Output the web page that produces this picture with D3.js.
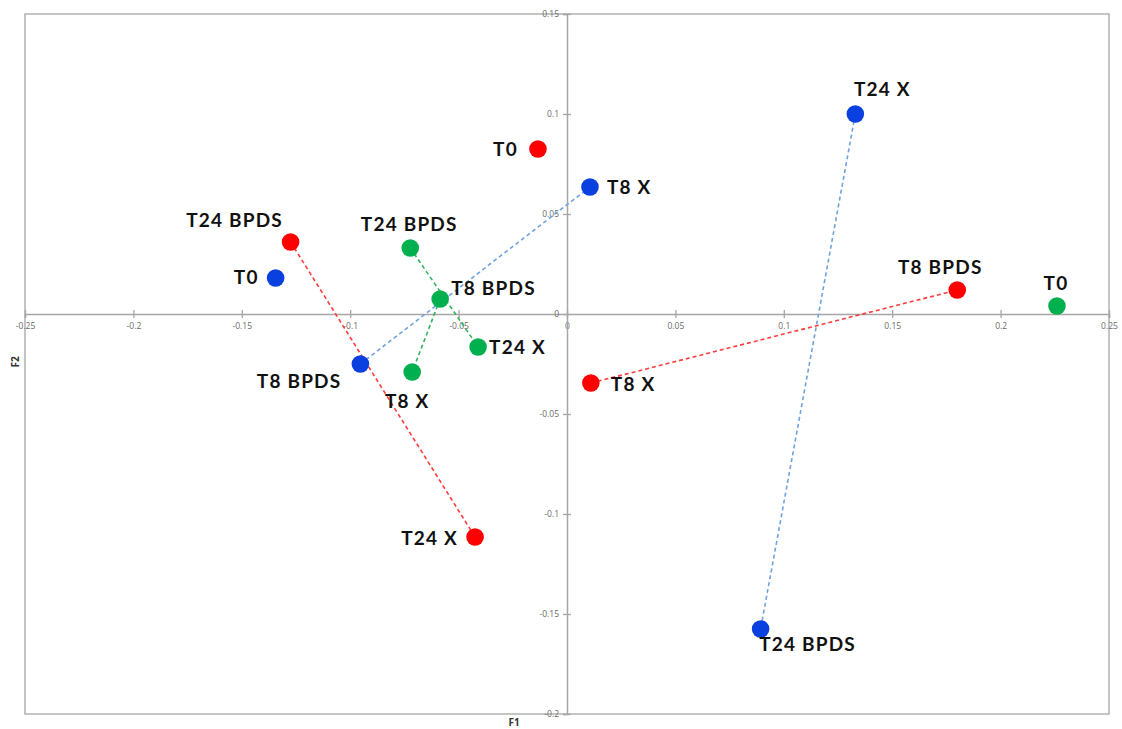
<!DOCTYPE html>
<html>
<head>
<meta charset="utf-8">
<script src="https://cdn.jsdelivr.net/npm/d3@7"></script>
<style>
  html, body { margin: 0; padding: 0; background: #fff; }
  svg { display: block; }
</style>
</head>
<body>
<svg id="chart" width="1122" height="729"></svg>
<script>
// Factor map coordinates (F1, F2) per group
const groups = ["red", "blue", "green"];
const pointNames = ["T0", "T8 X", "T8 BPDS", "T24 X", "T24 BPDS"];

const redF1   = [-0.0134, 0.011, 0.180, -0.0424, -0.1275];
const redF2   = [0.0825, -0.0345, 0.012, -0.1115, 0.036];
const blueF1  = [-0.1344, 0.0106, -0.0953, 0.133, 0.0893];
const blueF2  = [0.018, 0.0635, -0.025, 0.100, -0.1575];
const greenF1 = [0.226, -0.0714, -0.0585, -0.041, -0.0723];
const greenF2 = [0.004, -0.029, 0.0075, -0.0165, 0.033];

// Pairs of points joined by dashed lines (by point name)
const redLinks   = [["T24 BPDS", "T24 X"], ["T8 X", "T8 BPDS"]];
const blueLinks  = [["T8 BPDS", "T8 X"], ["T24 X", "T24 BPDS"]];
const greenLinks = [["T24 BPDS", "T24 X"], ["T8 BPDS", "T8 X"]];

const xTicks = [-0.25, -0.2, -0.15, -0.1, -0.05, 0, 0.05, 0.1, 0.15, 0.2, 0.25];
const yTicks = [-0.2, -0.15, -0.1, -0.05, 0, 0.05, 0.1, 0.15];
const xTickLabels = ["-0.25", "-0.2", "-0.15", "-0.1", "-0.05", "0", "0.05", "0.1", "0.15", "0.2", "0.25"];
const yTickLabels = ["-0.2", "-0.15", "-0.1", "-0.05", "0", "0.05", "0.1", "0.15"];

// ---- layout & style ----
const style = {
  red:   { fill: "#ff0000", stroke: "#ff3b3b" },
  blue:  { fill: "#0a3fe0", stroke: "#6fa3de" },
  green: { fill: "#00b04f", stroke: "#2fb45c" }
};
// label placement: [anchor, dx, dy] relative to the marker centre
const labelPlace = {
  red: {
    "T0": ["end", -20, 0], "T8 X": ["start", 20, 1], "T8 BPDS": ["middle", -17, -23],
    "T24 X": ["end", -17, 1], "T24 BPDS": ["middle", -56, -22]
  },
  blue: {
    "T0": ["end", -17, -1], "T8 X": ["start", 17, 0], "T8 BPDS": ["end", -19, 17],
    "T24 X": ["middle", 27, -25], "T24 BPDS": ["middle", 47, 15]
  },
  green: {
    "T0": ["middle", -1, -23], "T8 X": ["middle", -5, 29], "T8 BPDS": ["start", 11, -11],
    "T24 X": ["start", 11, 0], "T24 BPDS": ["middle", -1, -24]
  }
};

const svg = d3.select("#chart");
const x = d3.scaleLinear().domain([-0.25, 0.25]).range([25, 1109]);
const y = d3.scaleLinear().domain([-0.2, 0.15]).range([714, 14]);

const frameColor = "#a6a6a6";
const tickFont = "'Open Sans', 'Liberation Sans', sans-serif";

// outer frame
svg.append("rect")
  .attr("x", x(-0.25)).attr("y", y(0.15))
  .attr("width", x(0.25) - x(-0.25)).attr("height", y(-0.2) - y(0.15))
  .attr("fill", "none").attr("stroke", frameColor).attr("stroke-width", 1.3);

// horizontal axis through F2 = 0
const xAxis = svg.append("g")
  .attr("transform", `translate(0,${y(0)})`)
  .call(d3.axisBottom(x).tickValues(xTicks).tickSize(4)
        .tickFormat((d, i) => xTickLabels[i]));
xAxis.select(".domain").attr("stroke", frameColor).attr("stroke-width", 1.5);
xAxis.selectAll(".tick line").attr("y1", -4).attr("y2", 4).attr("stroke", frameColor).attr("stroke-width", 1.3);
xAxis.selectAll(".tick text")
  .attr("y", 9).attr("dy", "0.71em")
  .attr("fill", "#6b6b6b").attr("font-size", 8.5).attr("font-family", tickFont);

// vertical axis through F1 = 0
const yAxis = svg.append("g")
  .attr("transform", `translate(${x(0)},0)`)
  .call(d3.axisLeft(y).tickValues(yTicks).tickSize(4)
        .tickFormat((d, i) => yTickLabels[i]));
yAxis.select(".domain").attr("stroke", frameColor).attr("stroke-width", 1.5);
yAxis.selectAll(".tick line").attr("x1", -4).attr("x2", 4).attr("stroke", frameColor).attr("stroke-width", 1.3);
yAxis.selectAll(".tick text")
  .attr("x", -8).attr("dy", "0.32em")
  .attr("fill", "#6b6b6b").attr("font-size", 8.5).attr("font-family", tickFont);

// axis titles
svg.append("text").text("F1")
  .attr("x", 514).attr("y", 726).attr("text-anchor", "middle")
  .attr("font-family", tickFont).attr("font-weight", "bold").attr("font-size", 10).attr("fill", "#333");
svg.append("text").text("F2")
  .attr("transform", `translate(19,${362}) rotate(-90)`).attr("text-anchor", "middle")
  .attr("font-family", tickFont).attr("font-weight", "bold").attr("font-size", 10).attr("fill", "#333");

// build point records
const series = {
  red:   { f1: redF1,   f2: redF2,   links: redLinks },
  blue:  { f1: blueF1,  f2: blueF2,  links: blueLinks },
  green: { f1: greenF1, f2: greenF2, links: greenLinks }
};

const linkLayer = svg.append("g");
const pointLayer = svg.append("g");
const labelLayer = svg.append("g");

groups.forEach(g => {
  const s = series[g];
  const pts = pointNames.map((name, i) => ({ name, f1: s.f1[i], f2: s.f2[i], group: g }));
  const byName = new Map(pts.map(p => [p.name, p]));

  linkLayer.selectAll(null).data(s.links).join("line")
    .attr("x1", d => x(byName.get(d[0]).f1)).attr("y1", d => y(byName.get(d[0]).f2))
    .attr("x2", d => x(byName.get(d[1]).f1)).attr("y2", d => y(byName.get(d[1]).f2))
    .attr("stroke", style[g].stroke).attr("stroke-width", 1.6)
    .attr("stroke-dasharray", "4,3");

  pointLayer.selectAll(null).data(pts).join("circle")
    .attr("cx", d => x(d.f1)).attr("cy", d => y(d.f2)).attr("r", 8.8)
    .attr("fill", style[g].fill);

  labelLayer.selectAll(null).data(pts).join("text")
    .text(d => d.name)
    .attr("x", d => x(d.f1) + labelPlace[g][d.name][1])
    .attr("y", d => y(d.f2) + labelPlace[g][d.name][2])
    .attr("text-anchor", d => labelPlace[g][d.name][0])
    .attr("dy", "0.35em")
    .attr("font-family", "Lato, 'Open Sans', sans-serif")
    .attr("font-weight", "bold").attr("font-size", 19).attr("letter-spacing", 1.2)
    .attr("fill", "#111");
});
</script>
</body>
</html>
